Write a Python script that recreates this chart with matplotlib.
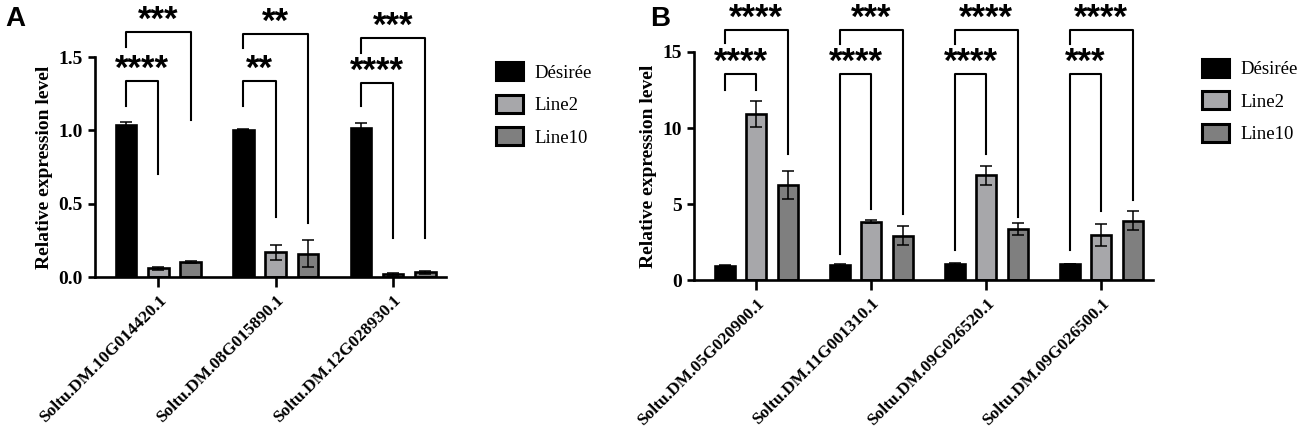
import matplotlib.pyplot as plt
import numpy as np
from matplotlib.patches import Patch

# panel A data
genes_a = ["Soltu.DM.10G014420.1", "Soltu.DM.08G015890.1", "Soltu.DM.12G028930.1"]
desiree_a = [1.04, 1.005, 1.02]
desiree_a_err = [0.02, 0.005, 0.03]
line2_a = [0.061, 0.17, 0.018]
line2_a_err = [0.01, 0.05, 0.01]
line10_a = [0.102, 0.16, 0.032]
line10_a_err = [0.005, 0.09, 0.01]

# brackets A: (group, target bar, top, left leg bottom, right leg bottom, label)
brackets_a = [
    (0, 1, 1.34, 1.17, 0.70, "****"),
    (0, 2, 1.67, 1.57, 1.07, "***"),
    (1, 1, 1.34, 1.17, 0.41, "**"),
    (1, 2, 1.66, 1.56, 0.37, "**"),
    (2, 1, 1.325, 1.17, 0.27, "****"),
    (2, 2, 1.63, 1.53, 0.27, "***"),
]

# panel B data
genes_b = ["Soltu.DM.05G020900.1", "Soltu.DM.11G001310.1", "Soltu.DM.09G026520.1", "Soltu.DM.09G026500.1"]
desiree_b = [0.94, 0.99, 1.07, 1.06]
desiree_b_err = [0.03, 0.05, 0.05, 0.03]
line2_b = [10.9, 3.85, 6.88, 2.98]
line2_b_err = [0.85, 0.1, 0.6, 0.72]
line10_b = [6.24, 2.93, 3.37, 3.92]
line10_b_err = [0.92, 0.63, 0.4, 0.63]

brackets_b = [
    (0, 1, 13.53, 12.48, 12.5, "****"),
    (0, 2, 16.47, 15.6, 8.28, "****"),
    (1, 1, 13.53, 1.7, 4.69, "****"),
    (1, 2, 16.47, 15.55, 4.38, "***"),
    (2, 1, 13.53, 1.97, 8.3, "****"),
    (2, 2, 16.47, 15.55, 4.16, "****"),
    (3, 1, 13.53, 1.97, 4.55, "***"),
    (3, 2, 16.47, 15.55, 5.25, "****"),
]

series_names = ["Désirée", "Line2", "Line10"]
colors = ["#000000", "#a7a7aa", "#7f7f7f"]

plt.rcParams['font.family'] = ['Liberation Serif', 'DejaVu Serif']

fig = plt.figure(figsize=(13, 4.33), dpi=100)
ax_a = fig.add_axes([0.073, 0.360, 0.270, 0.508])
ax_b = fig.add_axes([0.534, 0.353, 0.353, 0.527])

width = 0.175
offsets = [-0.275, 0.0, 0.275]


def draw_panel(ax, genes, vals, errs, brackets, ymax, yticks, ticklabels):
    x = np.arange(len(genes))
    for i in range(3):
        ax.bar(x + offsets[i], vals[i], width, color=colors[i], edgecolor='black',
               linewidth=1.9, zorder=2)
        ax.errorbar(x + offsets[i], vals[i], yerr=errs[i], fmt='none', ecolor='black',
                    elinewidth=1.1, capsize=4, capthick=1.1, zorder=3)
    for g, t, top, lb, rb, lab in brackets:
        x0 = g + offsets[0]
        x1 = g + offsets[t]
        ax.plot([x0, x0, x1, x1], [lb, top, top, rb], color='black', lw=1.5,
                clip_on=False, zorder=4)
        ax.annotate(lab, ((x0 + x1) / 2, top), xytext=(0, -3.5), textcoords='offset points',
                    ha='center', va='bottom', fontsize=25, fontweight='bold',
                    family='Liberation Sans', annotation_clip=False)
    ax.set_xlim(-0.54, len(genes) - 1 + 0.45)
    ax.set_ylim(0, ymax)
    ax.set_yticks(yticks)
    ax.set_yticklabels(ticklabels, fontsize=14, fontweight='bold')
    ax.set_xticks(x)
    ax.set_xticklabels(genes, rotation=45, ha='right', rotation_mode='anchor',
                       fontsize=12.5, fontweight='bold')
    ax.tick_params(axis='x', length=7, width=1.9, pad=4)
    ax.tick_params(axis='y', length=5, width=1.9)
    ax.spines['top'].set_visible(False)
    ax.spines['right'].set_visible(False)
    ax.spines['left'].set_linewidth(1.9)
    ax.spines['bottom'].set_linewidth(1.9)
    ax.set_ylabel("Relative expression level", fontsize=14, fontweight='bold')
    handles = [Patch(facecolor=colors[i], edgecolor='black', linewidth=2.2) for i in range(3)]
    return handles


h = draw_panel(ax_a, genes_a, [desiree_a, line2_a, line10_a],
               [desiree_a_err, line2_a_err, line10_a_err], brackets_a,
               1.5, [0.0, 0.5, 1.0, 1.5], ["0.0", "0.5", "1.0", "1.5"])
ax_a.legend(h, series_names, loc='upper left', bbox_to_anchor=(1.12, 1.01), frameon=False,
            fontsize=13.5, handlelength=1.45, handleheight=1.1, labelspacing=0.7,
            handletextpad=0.6, borderaxespad=0)

h = draw_panel(ax_b, genes_b, [desiree_b, line2_b, line10_b],
               [desiree_b_err, line2_b_err, line10_b_err], brackets_b,
               15, [0, 5, 10, 15], ["0", "5", "10", "15"])
ax_b.legend(h, series_names, loc='upper left', bbox_to_anchor=(1.09, 1.003), frameon=False,
            fontsize=13.5, handlelength=1.45, handleheight=1.1, labelspacing=0.7,
            handletextpad=0.6, borderaxespad=0)

fig.text(0.004, 0.985, "A", fontsize=20, fontweight='bold', family='Liberation Sans', va='top')
fig.text(0.500, 0.985, "B", fontsize=20, fontweight='bold', family='Liberation Sans', va='top')

fig.savefig("out.png", dpi=100)
